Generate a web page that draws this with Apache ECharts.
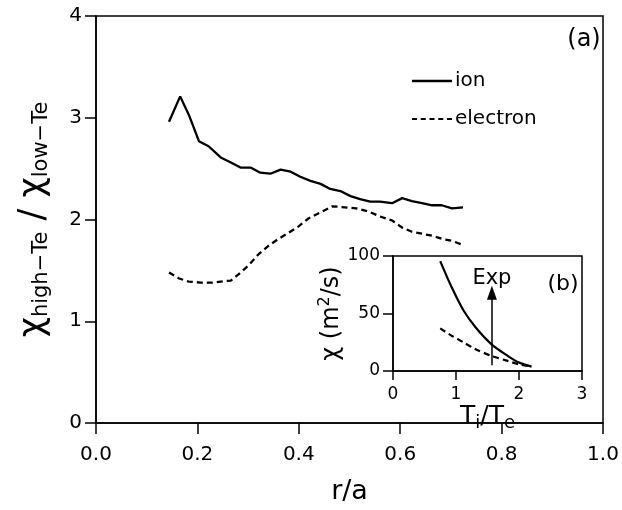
<!DOCTYPE html>
<html><head><meta charset="utf-8">
<script src="https://cdn.jsdelivr.net/npm/echarts@6/dist/echarts.min.js"></script>
<style>html,body{margin:0;padding:0;background:#fff}#c{width:622px;height:510px}</style>
</head><body><div id="c"></div>
<script>
// Main panel (a)
const ionR = [0.144,0.166,0.183,0.203,0.222,0.246,0.266,0.285,0.305,0.324,0.344,0.364,0.384,0.403,0.423,0.443,0.462,0.482,0.502,0.521,0.541,0.560,0.584,0.604,0.623,0.643,0.663,0.682,0.702,0.724];
const ionRatio = [2.96,3.21,3.03,2.77,2.72,2.61,2.56,2.51,2.51,2.46,2.45,2.49,2.47,2.42,2.38,2.35,2.30,2.28,2.23,2.20,2.175,2.175,2.16,2.21,2.18,2.16,2.14,2.14,2.11,2.12];
const eleR = [0.144,0.164,0.183,0.207,0.230,0.246,0.266,0.281,0.301,0.321,0.340,0.360,0.380,0.399,0.419,0.443,0.466,0.490,0.513,0.537,0.560,0.584,0.604,0.623,0.643,0.663,0.682,0.702,0.724];
const eleRatio = [1.48,1.42,1.39,1.38,1.38,1.39,1.40,1.46,1.55,1.66,1.74,1.81,1.87,1.93,2.01,2.07,2.13,2.12,2.11,2.08,2.03,1.99,1.92,1.88,1.86,1.84,1.81,1.79,1.75];
// Inset panel (b)
const insetTiTe = [0.75,0.93,1.12,1.31,1.56,1.82,2.0,2.2];
const insetIonChi = [95.6,73,52.6,38,23.4,13.2,7.3,3.8];
const insetEleChi = [37,30.7,24.9,19,13.2,8.8,5.8,3.8];
const expArrow = {x:1.57, from:5, to:68, label:'Exp'};

const zip = (a,b)=>a.map((v,i)=>[v,b[i]]);
const F = 'DejaVu Sans';
const axisLine = {show:true, lineStyle:{color:'#000', width:1.5}};
const tick = len => ({show:true, length:len, lineStyle:{color:'#000', width:1.5}});
const chart = echarts.init(document.getElementById('c'));
chart.setOption({
  animation:false,
  backgroundColor:'#fff',
  textStyle:{fontFamily:F, color:'#000'},
  grid:[
    {left:96, right:19, top:16, bottom:78, show:true, borderColor:'#000', borderWidth:1.5, backgroundColor:'transparent'},
    {left:393, width:189, top:256, height:115, show:true, borderColor:'#000', borderWidth:1.5, backgroundColor:'#fff'}
  ],
  legend:{
    orient:'vertical', left:407, top:66, itemGap:18, itemWidth:40, itemHeight:14,
    textStyle:{fontFamily:F, fontSize:20, color:'#000', padding:[0,0,0,-2]},
    data:[
      {name:'ion', icon:'path://M0,0H40V2.4H0Z'},
      {name:'electron', icon:'path://M0,0H5V2H0Z M8.7,0H13.7V2H8.7Z M17.4,0H22.4V2H17.4Z M26.1,0H31.1V2H26.1Z M34.8,0H39.8V2H34.8Z'}
    ]
  },
  xAxis:[
    {gridIndex:0, type:'value', min:0, max:1, interval:0.2,
     axisLine, axisTick:tick(11),
     axisLabel:{fontFamily:F, fontSize:20, color:'#000', margin:22, formatter:v=>v.toFixed(1)},
     splitLine:{show:false},
     name:'r/a', nameLocation:'middle', nameGap:55, nameTextStyle:{fontFamily:F, fontSize:27, color:'#000'}},
    {gridIndex:1, type:'value', min:0, max:3, interval:1,
     axisLine, axisTick:tick(9),
     axisLabel:{fontFamily:F, fontSize:17, color:'#000', margin:15},
     splitLine:{show:false},
     name:'{t|T}{s|i}{t|/T}{s|e}', nameLocation:'middle', nameGap:24,
     nameTextStyle:{rich:{t:{fontFamily:F, fontSize:25, color:'#000'}, s:{fontFamily:F, fontSize:18, color:'#000', padding:[14,0,0,0]}}}}
  ],
  yAxis:[
    {gridIndex:0, type:'value', min:0, max:4, interval:1,
     axisLine, axisTick:tick(11),
     axisLabel:{fontFamily:F, fontSize:20, color:'#000', margin:14},
     splitLine:{show:false},
     name:'{c|χ}{s|high−Te}{c| / χ}{s|low−Te}', nameLocation:'middle', nameGap:44, nameRotate:90,
     nameTextStyle:{rich:{c:{fontFamily:F, fontSize:35, color:'#000'}, s:{fontFamily:F, fontSize:21, color:'#000', padding:[16,0,0,0]}}}},
    {gridIndex:1, type:'value', min:0, max:100, interval:50,
     axisLine, axisTick:tick(10),
     axisLabel:{fontFamily:F, fontSize:17, color:'#000', margin:13},
     splitLine:{show:false},
     name:'{c|χ (m}{p|2}{c|/s)}', nameLocation:'middle', nameGap:36, nameRotate:90,
     nameTextStyle:{rich:{c:{fontFamily:F, fontSize:24, color:'#000'}, p:{fontFamily:F, fontSize:16, color:'#000', padding:[0,0,14,0]}}}}
  ],
  series:[
    {name:'ion', type:'line', xAxisIndex:0, yAxisIndex:0, data:zip(ionR, ionRatio), symbol:'none',
     lineStyle:{color:'#000', width:2.3}, itemStyle:{color:'#000'}},
    {name:'electron', type:'line', xAxisIndex:0, yAxisIndex:0, data:zip(eleR, eleRatio), symbol:'none',
     lineStyle:{color:'#000', width:2.3, type:[6,4]}, itemStyle:{color:'#000'}},
    {name:'ion-b', type:'line', xAxisIndex:1, yAxisIndex:1, data:zip(insetTiTe, insetIonChi), symbol:'none', smooth:0.3,
     lineStyle:{color:'#000', width:2.2}, z:5,
     markLine:{silent:true, symbol:['none','triangle'], symbolSize:[10,14],
       lineStyle:{color:'#000', width:1.5, type:'solid'},
       label:{show:true, position:'end', formatter:expArrow.label, fontFamily:F, fontSize:21, color:'#000', distance:4},
       data:[[{coord:[expArrow.x, expArrow.from]},{coord:[expArrow.x, expArrow.to]}]]}},
    {name:'electron-b', type:'line', xAxisIndex:1, yAxisIndex:1, data:zip(insetTiTe, insetEleChi), symbol:'none', smooth:0.3,
     lineStyle:{color:'#000', width:2.2, type:[6,4]}, z:5}
  ],
  graphic:[
    {type:'text', x:584, y:40, style:{text:'(a)', fontFamily:F, fontSize:24, fill:'#000', align:'center', verticalAlign:'middle'}},
    {type:'text', x:563, y:284, style:{text:'(b)', fontFamily:F, fontSize:22, fill:'#000', align:'center', verticalAlign:'middle'}}
  ]
});
</script></body></html>
